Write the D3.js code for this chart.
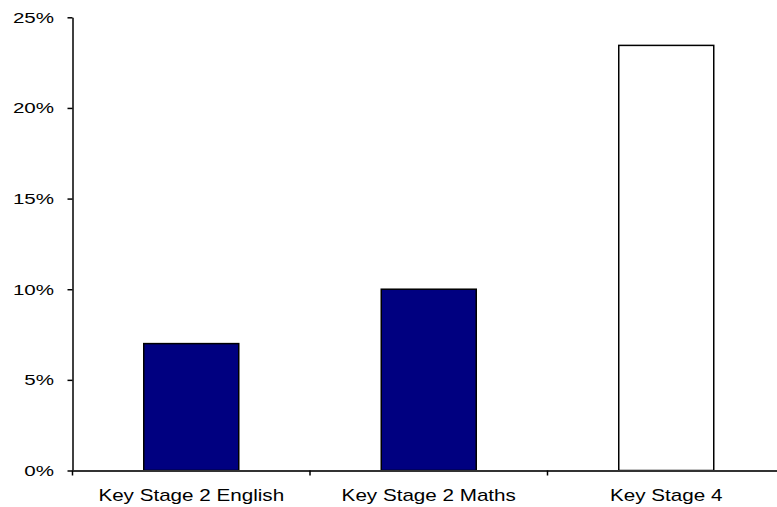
<!DOCTYPE html>
<html>
<head>
<meta charset="utf-8">
<script src="https://cdn.jsdelivr.net/npm/d3@7"></script>
<style>
  body { margin: 0; background: #fff; }
  svg { display: block; }
  text { font-family: "Liberation Sans", Arial, sans-serif; font-size: 15px; fill: #000; }
</style>
</head>
<body>
<div id="chart"></div>
<script>
let stages = ['Key Stage 2 English', 'Key Stage 2 Maths', 'Key Stage 4']
let shares = [0.07, 0.10, 0.2345]
let barColours = ['#000080', '#000080', '#ffffff']
let yTicks = [0, 0.05, 0.10, 0.15, 0.20, 0.25]

let width = 777
let height = 507
let yStretch = 1.37
let xStretch = 1.29

let x = d3.scaleBand()
  .domain(stages)
  .range([72.5, 785])
  .paddingInner(0.6)
  .paddingOuter(0.3)

let y = d3.scaleLinear()
  .domain([0, 0.25])
  .range([470.5, 17.3])

let svg = d3.select('#chart')
  .append('svg')
  .attr('width', width)
  .attr('height', height)

// bars
svg.selectAll('rect.bar')
  .data(stages)
  .enter()
  .append('rect')
  .attr('class', 'bar')
  .attr('x', d => x(d))
  .attr('y', (d, i) => y(shares[i]))
  .attr('width', x.bandwidth())
  .attr('height', (d, i) => y(0) - y(shares[i]))
  .attr('fill', (d, i) => barColours[i])
  .attr('stroke', '#000')
  .attr('stroke-width', 1.5)

// y axis
let yAxis = svg.append('g')
  .attr('transform', 'translate(72.5,0)')
  .call(d3.axisLeft(y).tickValues(yTicks).tickFormat(d3.format('.0%')).tickSize(5).tickSizeOuter(0))
yAxis.select('.domain').attr('stroke', '#000').attr('stroke-width', 1.5)
yAxis.selectAll('.tick line').attr('stroke', '#000').attr('stroke-width', 1.5)
yAxis.selectAll('.tick text')
  .attr('x', -18.5 / yStretch)
  .attr('transform', `scale(${yStretch},1)`)
  .style('font-size', '15px')

// x axis, ticks between the categories
let xAxis = svg.append('g')
  .attr('transform', `translate(0,${y(0)})`)
  .call(d3.axisBottom(x).tickSize(0).tickSizeOuter(0))
xAxis.select('.domain').attr('stroke', '#333').attr('stroke-width', 2)
xAxis.selectAll('.tick text')
  .attr('y', 31)
  .attr('dy', 0)
  .attr('transform', `scale(${xStretch},1)`)
  .style('font-size', '16px')

let edges = stages.map(d => x(d) - x.step() * x.paddingInner() / 2)
edges[0] = x.range()[0]
svg.append('g')
  .selectAll('line')
  .data(edges)
  .enter()
  .append('line')
  .attr('x1', d => d)
  .attr('x2', d => d)
  .attr('y1', y(0))
  .attr('y2', y(0) + 5)
  .attr('stroke', '#000')
  .attr('stroke-width', 1.5)
</script>
</body>
</html>
